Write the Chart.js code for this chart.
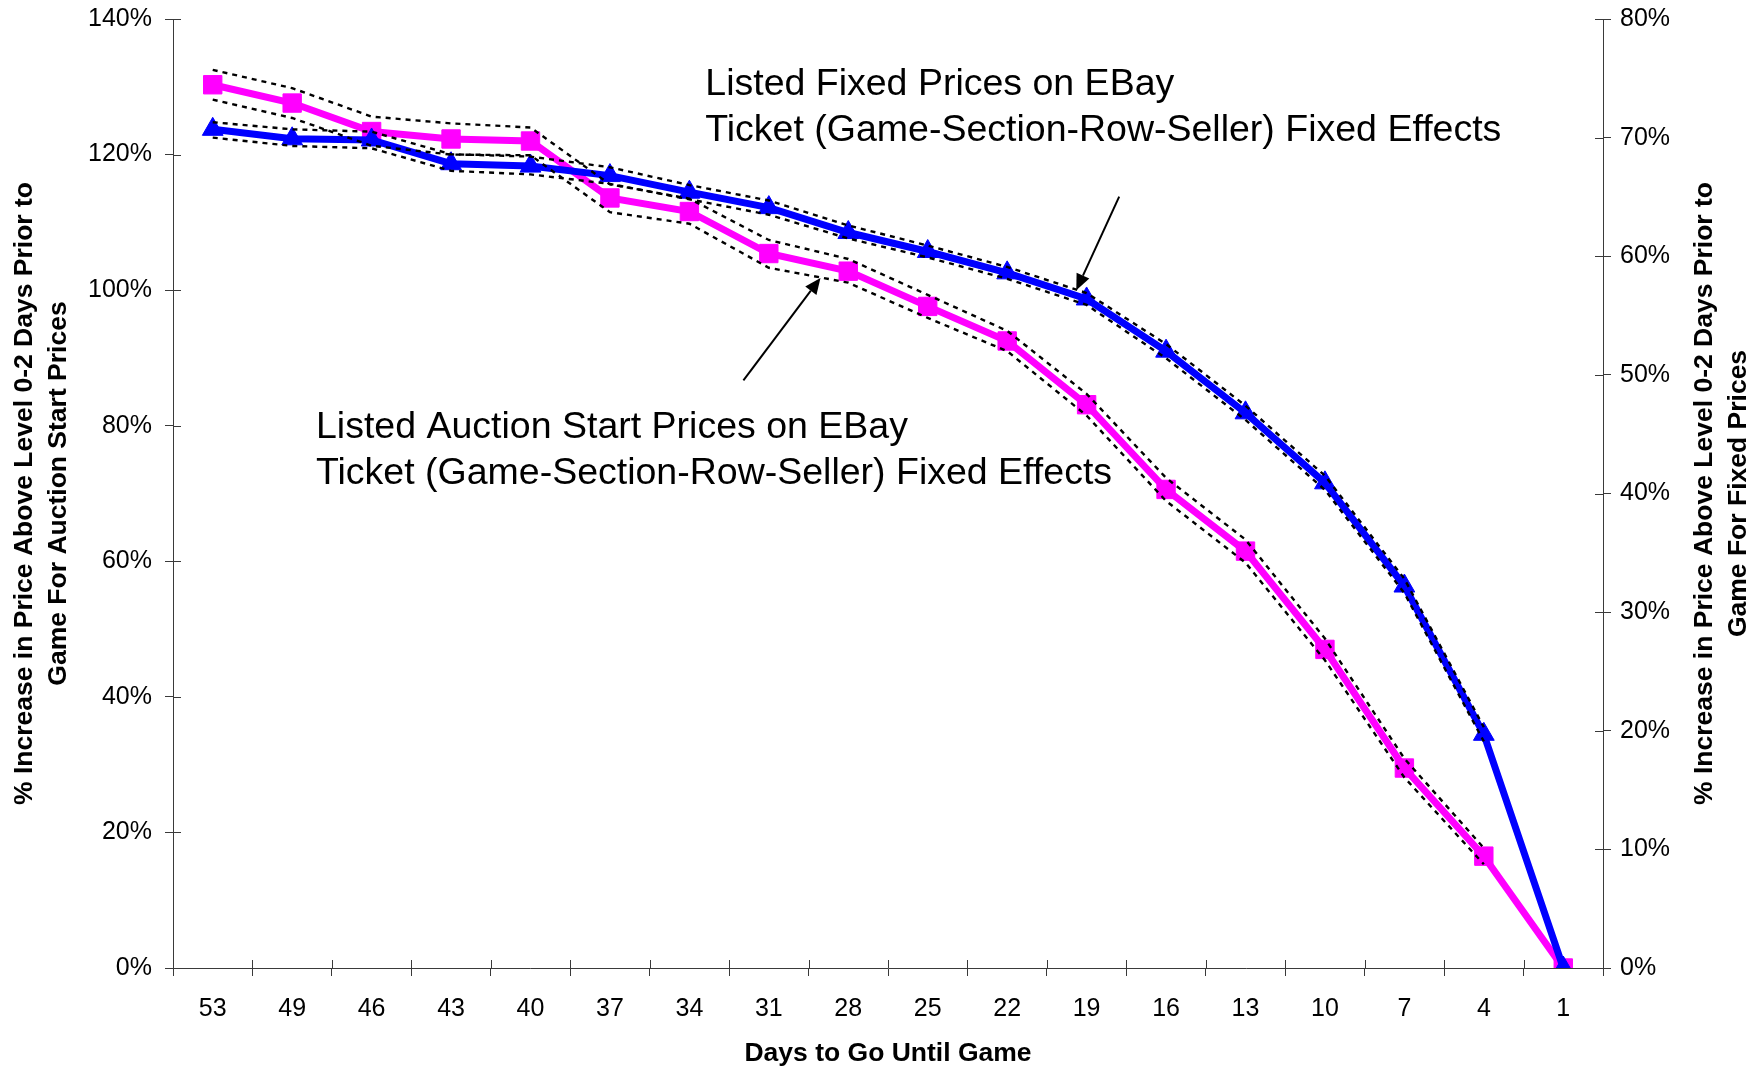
<!DOCTYPE html>
<html>
<head>
<meta charset="utf-8">
<script src="https://cdn.jsdelivr.net/npm/chart.js@4.4.1/dist/chart.umd.min.js"></script>
<style>
  html, body { margin: 0; padding: 0; background: #ffffff; }
  #wrap { width: 1763px; height: 1070px; }
</style>
</head>
<body>
<div id="wrap"><canvas id="c" width="1763" height="1070"></canvas></div>
<script>
// Days remaining before the game (x categories)
const days = ['53','49','46','43','40','37','34','31','28','25','22','19','16','13','10','7','4','1'];

// Auction start prices, % above the 0-2 day level (left axis)
const auctionStart = [130.3,127.6,123.4,122.3,122.0,113.6,111.6,105.4,102.8,97.6,92.5,83.1,70.6,61.5,47.0,29.5,16.5,0];
const auctionUpper = [132.5,129.8,125.6,124.6,124.0,115.6,113.5,107.4,104.6,99.3,94.0,84.7,72.3,63.2,48.6,30.9,17.7,null];
const auctionLower = [128.1,125.4,121.3,120.0,119.9,111.5,109.8,103.3,101.1,95.9,91.0,81.5,68.9,59.8,45.4,28.1,15.3,null];

// Fixed prices, % above the 0-2 day level (right axis)
const fixedPrice = [70.7,69.9,69.8,67.8,67.6,66.8,65.4,64.1,62.0,60.4,58.6,56.4,52.0,46.8,40.9,32.2,19.7,0];
const fixedUpper = [71.3,70.7,70.5,68.6,68.4,67.5,66.0,64.7,62.6,60.9,59.1,56.9,52.6,47.4,41.5,32.8,20.3,null];
const fixedLower = [70.0,69.3,69.1,67.2,66.9,66.1,64.8,63.5,61.5,59.9,58.1,55.9,51.4,46.2,40.3,31.6,19.1,null];

// Axis ranges
const leftAxis = { min: 0, max: 140, step: 20 };
const rightAxis = { min: 0, max: 80, step: 10 };

// Titles and callouts
const leftTitle = ['% Increase in Price Above Level 0-2 Days Prior to', 'Game For Auction Start Prices'];
const rightTitle = ['% Increase in Price Above Level 0-2 Days Prior to', 'Game For Fixed Prices'];
const xTitle = 'Days to Go Until Game';
const fixedNote = ['Listed Fixed Prices on EBay', 'Ticket (Game-Section-Row-Seller) Fixed Effects'];
const auctionNote = ['Listed Auction Start Prices on EBay', 'Ticket (Game-Section-Row-Seller) Fixed Effects'];

// Callout anchors in data units: [category position, left-axis %]
const fixedNoteAt = [[6.2, 130.3], [6.2, 123.5]];
const auctionNoteAt = [[1.3, 79.7], [1.3, 73.0]];
const fixedArrow = [[11.41, 113.8], [10.87, 100.0]];
const auctionArrow = [[6.68, 86.7], [7.65, 101.8]];

const FONT = '"Liberation Sans", Arial, Helvetica, sans-serif';
const AXIS_COLOR = '#3a3a3a';

function bandStyle(data, axis) {
  return {
    data: data, yAxisID: axis, borderColor: '#000000', borderWidth: 2.4,
    borderDash: [5, 5], pointRadius: 0, fill: false, spanGaps: false, order: 0
  };
}

// keep the first and last tick labels from pushing the plot area inward
function noLabelPadding(s) {
  s.paddingTop = 0; s.paddingBottom = 0;
}

const decor = {
  id: 'decor',
  afterDatasetsDraw(chart) {
    const ctx = chart.ctx;
    const xs = chart.scales.x, ys = chart.scales.y;
    const px = p => [xs.getPixelForValue(p[0]), ys.getPixelForValue(p[1])];
    ctx.save();
    ctx.fillStyle = '#000';
    ctx.font = '37.5px ' + FONT;
    ctx.textAlign = 'left';
    ctx.textBaseline = 'middle';
    fixedNote.forEach((t, i) => { const q = px(fixedNoteAt[i]); ctx.fillText(t, q[0], q[1]); });
    auctionNote.forEach((t, i) => { const q = px(auctionNoteAt[i]); ctx.fillText(t, q[0], q[1]); });

    // arrows
    [fixedArrow, auctionArrow].forEach(a => {
      const s = px(a[0]), e = px(a[1]);
      const ang = Math.atan2(e[1] - s[1], e[0] - s[0]);
      const hl = 16, hw = 7;
      const bx = e[0] - hl * Math.cos(ang), by = e[1] - hl * Math.sin(ang);
      ctx.strokeStyle = '#000';
      ctx.lineWidth = 2;
      ctx.beginPath(); ctx.moveTo(s[0], s[1]); ctx.lineTo(bx, by); ctx.stroke();
      ctx.beginPath();
      ctx.moveTo(e[0], e[1]);
      ctx.lineTo(bx + hw * Math.sin(ang), by - hw * Math.cos(ang));
      ctx.lineTo(bx - hw * Math.sin(ang), by + hw * Math.cos(ang));
      ctx.closePath(); ctx.fill();
    });
    ctx.restore();
  },
  afterDraw(chart) {
    const ctx = chart.ctx;
    const a = chart.chartArea;
    const xs = chart.scales.x, ys = chart.scales.y, y2 = chart.scales.y2;
    ctx.save();
    // inner halves of the tick marks
    ctx.strokeStyle = AXIS_COLOR;
    ctx.lineWidth = 1;
    ctx.beginPath();
    ys.ticks.forEach(t => { const y = Math.round(ys.getPixelForValue(t.value)) + 0.5; ctx.moveTo(a.left, y); ctx.lineTo(a.left + 8, y); });
    y2.ticks.forEach(t => { const y = Math.round(y2.getPixelForValue(t.value)) + 0.5; ctx.moveTo(a.right, y); ctx.lineTo(a.right - 8, y); });
    for (let i = 0; i <= days.length; i++) {
      const x = Math.round(xs.getPixelForValue(i - 0.5)) + 0.5;
      ctx.moveTo(x, a.bottom); ctx.lineTo(x, a.bottom - 8);
    }
    ctx.stroke();

    // axis titles
    ctx.fillStyle = '#000';
    ctx.font = 'bold 26.5px ' + FONT;
    ctx.textAlign = 'center';
    ctx.textBaseline = 'middle';
    const midY = (a.top + a.bottom) / 2;
    [[leftTitle, a.left - 148], [rightTitle, a.right + 102]].forEach(([lines, x0]) => {
      lines.forEach((t, i) => {
        ctx.save();
        ctx.translate(x0 + i * 34, midY);
        ctx.rotate(-Math.PI / 2);
        ctx.fillText(t, 0, 0);
        ctx.restore();
      });
    });
    ctx.fillText(xTitle, (a.left + a.right) / 2, a.bottom + 86);
    ctx.restore();
  }
};

new Chart(document.getElementById('c'), {
  type: 'line',
  data: {
    labels: days,
    datasets: [
      bandStyle(auctionUpper, 'y'),
      bandStyle(auctionLower, 'y'),
      bandStyle(fixedUpper, 'y2'),
      bandStyle(fixedLower, 'y2'),
      {
        label: 'Fixed prices', data: fixedPrice, yAxisID: 'y2',
        borderColor: '#0000FF', backgroundColor: '#0000FF', borderWidth: 7,
        pointStyle: 'triangle', pointRadius: 12, pointBorderWidth: 1,
        pointBackgroundColor: '#0000FF', pointBorderColor: '#0000FF',
        fill: false, tension: 0, order: 1
      },
      {
        label: 'Auction start prices', data: auctionStart, yAxisID: 'y',
        borderColor: '#FF00FF', backgroundColor: '#FF00FF', borderWidth: 7,
        pointStyle: 'rect', pointRadius: 13, pointBorderWidth: 1,
        pointBackgroundColor: '#FF00FF', pointBorderColor: '#FF00FF',
        fill: false, tension: 0, order: 2
      }
    ]
  },
  options: {
    responsive: false,
    animation: false,
    devicePixelRatio: 1,
    layout: { padding: { top: 19, left: 0, right: 0, bottom: 0 } },
    plugins: { legend: { display: false }, tooltip: { enabled: false } },
    scales: {
      x: {
        type: 'category',
        offset: true,
        grid: { display: true, drawOnChartArea: false, offset: true, tickLength: 8, color: AXIS_COLOR, tickColor: AXIS_COLOR },
        border: { display: true, color: AXIS_COLOR, width: 1 },
        ticks: { color: '#000', font: { family: FONT, size: 25 }, padding: 18, maxRotation: 0, autoSkip: false },
        afterFit(s) { s.height = 102; s.paddingLeft = 0; s.paddingRight = 0; }
      },
      y: {
        position: 'left',
        min: leftAxis.min, max: leftAxis.max,
        grid: { display: true, drawOnChartArea: false, tickLength: 8, color: AXIS_COLOR, tickColor: AXIS_COLOR },
        border: { display: true, color: AXIS_COLOR, width: 1 },
        ticks: { stepSize: leftAxis.step, color: '#000', font: { family: FONT, size: 25 }, padding: 13, callback: v => v + '%' },
        afterFit(s) { s.width = 173; noLabelPadding(s); }
      },
      y2: {
        position: 'right',
        min: rightAxis.min, max: rightAxis.max,
        grid: { display: true, drawOnChartArea: false, tickLength: 8, color: AXIS_COLOR, tickColor: AXIS_COLOR },
        border: { display: true, color: AXIS_COLOR, width: 1 },
        ticks: { stepSize: rightAxis.step, color: '#000', font: { family: FONT, size: 25 }, padding: 9, callback: v => v + '%' },
        afterFit(s) { s.width = 160; noLabelPadding(s); }
      }
    }
  },
  plugins: [decor]
});
</script>
</body>
</html>
